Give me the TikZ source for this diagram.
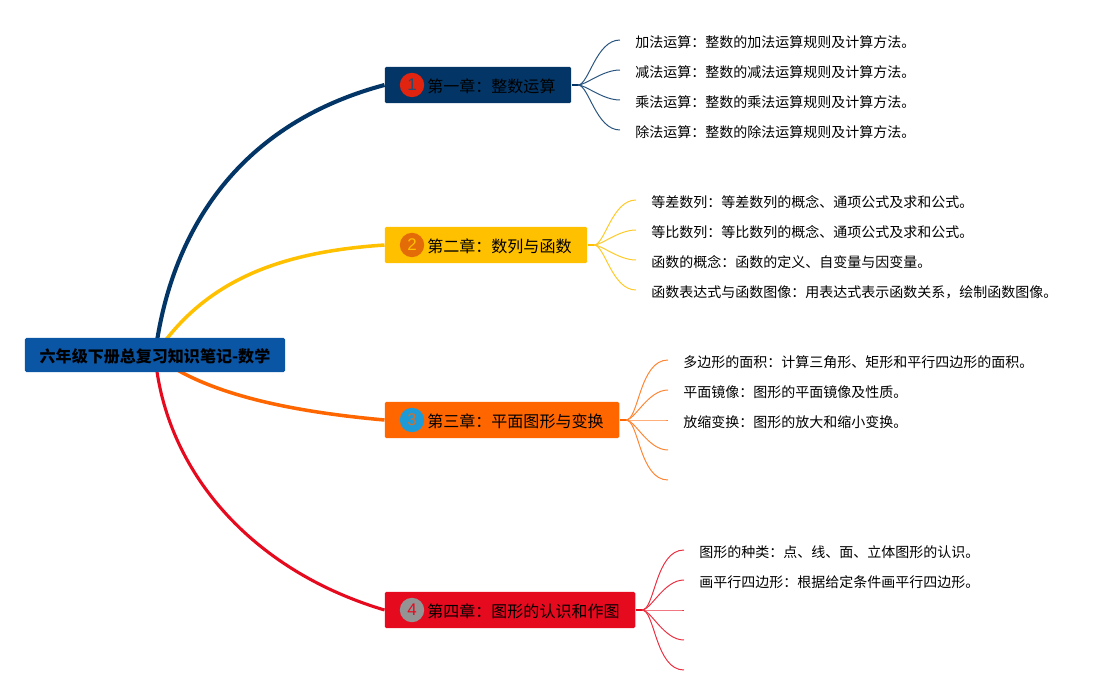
\documentclass[tikz,border=0pt]{standalone}
\usepackage{fontspec}
\setmainfont{Noto Sans CJK SC}
\newfontfamily\numfont{Liberation Sans}
\usetikzlibrary{backgrounds}
\definecolor{rootblue}{HTML}{0B55A5}
\definecolor{navy}{HTML}{033667}
\definecolor{amber}{HTML}{FFC000}
\definecolor{tangerine}{HTML}{FF6600}
\definecolor{crimson}{HTML}{E60A1F}

\begin{document}
\begin{tikzpicture}[x=0.025cm,y=-0.025cm,
   rootbox/.style={minimum width=6.5cm,minimum height=0.85cm,inner sep=0,rounded corners=1pt,fill=rootblue,text height=10.4pt,text depth=0pt,font=\fontsize{11.4pt}{13pt}\bfseries},
   chap/.style={anchor=west,minimum height=0.9cm,inner sep=0,rounded corners=1pt},
   chaplbl/.style={anchor=west,inner sep=0,font=\fontsize{11.4pt}{13pt}\selectfont},
   badge/.style={circle,minimum size=0.61cm,inner sep=0,font=\fontsize{12pt}{13pt}\numfont},
   leaf/.style={anchor=west,inner ysep=0,inner xsep=0.375cm,text height=10.4pt,text depth=0pt,font=\fontsize{9.96pt}{12pt}\selectfont},
   trunk/.style={line width=#1},
   twigline/.style={line width=0.7pt},
   twig/.style={out=0,in=180,out looseness=0.45,in looseness=1},
   stub/.style={line width=1.6pt}]
  \useasboundingbox (0,0) rectangle (1117,695);
  % root and chapters
  \node[rootbox] (root) at (155,355) {六年级下册总复习知识笔记-数学};
  \node[chap,fill=navy,minimum width=4.66cm] (ch1) at (384.5,85) {};
  \node[chap,fill=amber,minimum width=5.06cm] (ch2) at (384.5,245) {};
  \node[chap,fill=tangerine,minimum width=5.86cm] (ch3) at (384.5,420) {};
  \node[chap,fill=crimson,minimum width=6.26cm] (ch4) at (384.5,610) {};
  \node[badge,fill={rgb,255:red,224;green,36;blue,16},text=navy!70!gray] (n1) at (412,85) {1};
  \node[badge,fill={rgb,255:red,227;green,108;blue,9},text=amber] (n2) at (412,245) {2};
  \node[badge,fill={rgb,255:red,30;green,155;blue,215},text=tangerine!60!gray] (n3) at (412,420) {3};
  \node[badge,fill=black!42,text=crimson] (n4) at (412,610) {4};
  \node[chaplbl] (t1) at (427,86) {第一章：整数运算};
  \node[chaplbl] (t2) at (427,246) {第二章：数列与函数};
  \node[chaplbl] (t3) at (427,421) {第三章：平面图形与变换};
  \node[chaplbl] (t4) at (427,611) {第四章：图形的认识和作图};
  % leaves
  \node[leaf] (a1) at (620,40) {加法运算：整数的加法运算规则及计算方法。};
  \node[leaf] (a2) at (620,70) {减法运算：整数的减法运算规则及计算方法。};
  \node[leaf] (a3) at (620,100) {乘法运算：整数的乘法运算规则及计算方法。};
  \node[leaf] (a4) at (620,130) {除法运算：整数的除法运算规则及计算方法。};
  \node[leaf] (b1) at (636,200) {等差数列：等差数列的概念、通项公式及求和公式。};
  \node[leaf] (b2) at (636,230) {等比数列：等比数列的概念、通项公式及求和公式。};
  \node[leaf] (b3) at (636,260) {函数的概念：函数的定义、自变量与因变量。};
  \node[leaf] (b4) at (636,290) {函数表达式与函数图像：用表达式表示函数关系，绘制函数图像。};
  \node[leaf] (c1) at (668,360) {多边形的面积：计算三角形、矩形和平行四边形的面积。};
  \node[leaf] (c2) at (668,390) {平面镜像：图形的平面镜像及性质。};
  \node[leaf] (c3) at (668,420) {放缩变换：图形的放大和缩小变换。};
  \coordinate (c4) at (668,450);
  \coordinate (c5) at (668,480);
  \node[leaf] (d1) at (684,550) {图形的种类：点、线、面、立体图形的认识。};
  \node[leaf] (d2) at (684,580) {画平行四边形：根据给定条件画平行四边形。};
  \coordinate (d3) at (684,610);
  \coordinate (d4) at (684,640);
  \coordinate (d5) at (684,670);
  \coordinate (hub1) at (578,85);
  \coordinate (hub2) at (594,245);
  \coordinate (hub3) at (626,420);
  \coordinate (hub4) at (642,610);
  % trunks go under the boxes
  \begin{scope}[on background layer]
    \draw[trunk=2.9pt,navy] (root.center) .. controls (170,235) and (235,125) .. (ch1.west);
    \draw[trunk=2.5pt,amber] (root.center) .. controls (205,280) and (280,252) .. (ch2.west);
    \draw[trunk=2.5pt,tangerine] (root.center) .. controls (205,395) and (295,412) .. (ch3.west);
    \draw[trunk=2.2pt,crimson] (root.center) .. controls (165,470) and (250,570) .. (ch4.west);
  \end{scope}
  % chapter 1
  \draw[stub,navy] (ch1.east) -- (hub1);
  \draw[twigline,navy!85] (hub1) to[twig] (a1.west);
  \draw[twigline,navy!85] (hub1) to[twig] (a2.west);
  \draw[twigline,navy!85] (hub1) to[twig] (a3.west);
  \draw[twigline,navy!85] (hub1) to[twig] (a4.west);
  % chapter 2
  \draw[stub,amber] (ch2.east) -- (hub2);
  \draw[twigline,amber!85] (hub2) to[twig] (b1.west);
  \draw[twigline,amber!85] (hub2) to[twig] (b2.west);
  \draw[twigline,amber!85] (hub2) to[twig] (b3.west);
  \draw[twigline,amber!85] (hub2) to[twig] (b4.west);
  % chapter 3
  \draw[stub,tangerine] (ch3.east) -- (hub3);
  \draw[twigline,tangerine!80] (hub3) to[twig] (c1.west);
  \draw[twigline,tangerine!80] (hub3) to[twig] (c2.west);
  \draw[twigline,tangerine!80] (hub3) to[twig] (c3.west);
  \draw[twigline,tangerine!80] (hub3) to[twig] (c4);
  \draw[twigline,tangerine!80] (hub3) to[twig] (c5);
  % chapter 4
  \draw[stub,crimson] (ch4.east) -- (hub4);
  \draw[twigline,crimson!85] (hub4) to[twig] (d1.west);
  \draw[twigline,crimson!85] (hub4) to[twig] (d2.west);
  \draw[twigline,crimson!85] (hub4) to[twig] (d3);
  \draw[twigline,crimson!85] (hub4) to[twig] (d4);
  \draw[twigline,crimson!85] (hub4) to[twig] (d5);
\end{tikzpicture}
\end{document}
